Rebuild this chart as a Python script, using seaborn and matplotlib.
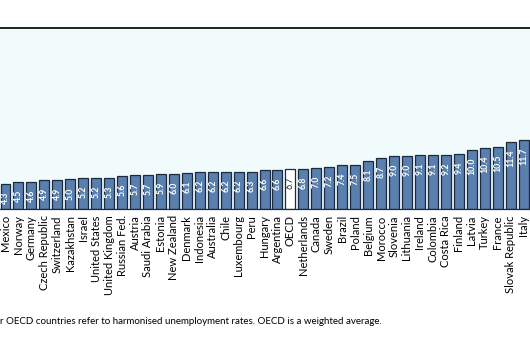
import matplotlib
matplotlib.use("Agg")
import matplotlib.pyplot as plt
import seaborn as sns
import pandas as pd

countries = ["Mexico", "Norway", "Germany", "Czech Republic", "Switzerland", "Kazakhstan",
             "Israel", "United States", "United Kingdom", "Russian Fed.", "Austria",
             "Saudi Arabia", "Estonia", "New Zealand", "Denmark", "Indonesia", "Australia",
             "Chile", "Luxembourg", "Peru", "Hungary", "Argentina", "OECD", "Netherlands",
             "Canada", "Sweden", "Brazil", "Poland", "Belgium", "Morocco", "Slovenia",
             "Lithuania", "Ireland", "Colombia", "Costa Rica", "Finland", "Latvia", "Turkey",
             "France", "Slovak Republic", "Italy"]
values = [4.3, 4.5, 4.6, 4.9, 4.9, 5.0, 5.2, 5.2, 5.3, 5.6, 5.7, 5.7, 5.9, 6.0, 6.1, 6.2,
          6.2, 6.2, 6.2, 6.3, 6.6, 6.6, 6.7, 6.8, 7.0, 7.2, 7.4, 7.5, 8.1, 8.7, 9.0, 9.0,
          9.1, 9.1, 9.2, 9.4, 10.0, 10.4, 10.5, 11.4, 11.7]
footnote = "r OECD countries refer to harmonised unemployment rates. OECD is a weighted average."

df = pd.DataFrame({"country": countries, "value": values})
bar_blue = "#4A7EBB"
highlight = "OECD"
palette = {c: ("#FFFFFF" if c == highlight else bar_blue) for c in countries}

sns.set_style("white")
plt.rcParams["font.family"] = ["Lato", "DejaVu Sans"]

W, H = 530, 364
fig = plt.figure(figsize=(W / 100, H / 100), dpi=100)
fig.patch.set_facecolor("white")
top_px, base_px = 27.5, 209
ax = fig.add_axes([0, 1 - base_px / H, 1, (base_px - top_px) / H])
ax.set_facecolor("#F1FBFC")

sns.barplot(data=df, x="country", y="value", hue="country", palette=palette,
            legend=False, width=0.77, edgecolor="#1C2A40", linewidth=0.9, ax=ax)

px_per_unit = 5.9
ax.set_ylim(0, (base_px - top_px) / px_per_unit)
ax.set_xlim(-0.425, 40.5)

for i, (c, v) in enumerate(zip(countries, values)):
    col = "#222222" if c == highlight else "white"
    ax.annotate(f"{v:.1f}", xy=(i, v), xytext=(0, -5.5), textcoords="offset points",
                ha="center", va="top", rotation=90, fontsize=6.3, color=col,
                fontweight="bold" if c != highlight else "normal")

ax.set_xlabel("")
ax.set_ylabel("")
ax.set_yticks([])
ax.tick_params(axis="x", length=0, pad=4.5)
ax.set_xticks(range(len(countries)))
ax.set_xticklabels(countries, rotation=90, fontsize=8, color="black")

for s in ["left", "right"]:
    ax.spines[s].set_visible(False)
ax.spines["top"].set_color("#111111")
ax.spines["top"].set_linewidth(1.3)
ax.spines["bottom"].set_color("#1C2A40")
ax.spines["bottom"].set_linewidth(0.9)

fig.text(0.0, 1 - 322 / H, footnote, fontsize=7.0, ha="left", va="center", color="black")

fig.savefig("out.png", dpi=100)
